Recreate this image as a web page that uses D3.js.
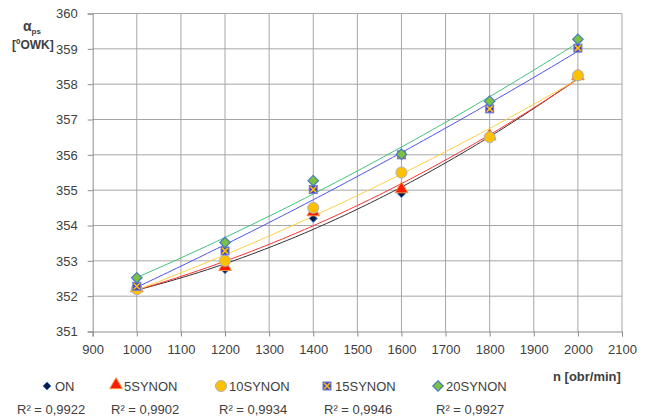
<!DOCTYPE html>
<html>
<head>
<meta charset="utf-8">
<script src="https://cdn.jsdelivr.net/npm/d3@7"></script>
<style>
  body { margin: 0; background: #fff; }
  text { font-family: "Liberation Sans", Arial, sans-serif; fill: #404040; }
</style>
</head>
<body>
<div id="chart"></div>
<script>
// chart data
var speeds = [1000, 1200, 1400, 1600, 1800, 2000];
var seriesNames = ["ON", "5SYNON", "10SYNON", "15SYNON", "20SYNON"];
var valuesON = [352.2, 352.75, 354.2, 354.9, 356.5, 358.2];
var values5 = [352.2, 352.8, 354.35, 355.0, 356.5, 358.2];
var values10 = [352.2, 353.0, 354.5, 355.5, 356.5, 358.25];
var values15 = [352.28, 353.28, 355.02, 356.0, 357.3, 359.02];
var values20 = [352.52, 353.52, 355.27, 356.02, 357.52, 359.27];
var r2Labels = ["R² = 0,9922", "R² = 0,9902", "R² = 0,9934", "R² = 0,9946", "R² = 0,9927"];
var xTicks = [900, 1000, 1100, 1200, 1300, 1400, 1500, 1600, 1700, 1800, 1900, 2000, 2100];
var yTicks = [351, 352, 353, 354, 355, 356, 357, 358, 359, 360];

var allValues = [valuesON, values5, values10, values15, values20];
var lineColors = ["#303030", "#ff3030", "#ffd040", "#5050f0", "#40c080"];

var width = 649, height = 419;
var margin = {top: 13.5, right: 27, bottom: 87.5, left: 92.7};

var svg = d3.select("#chart").append("svg")
  .attr("width", width)
  .attr("height", height);

var x = d3.scaleLinear().domain([900, 2100]).range([margin.left, width - margin.right]);
var y = d3.scaleLinear().domain([351, 360]).range([height - margin.bottom, margin.top]);

// grid
svg.append("g")
  .selectAll("line.v")
  .data(xTicks.slice(1))
  .enter().append("line")
    .attr("x1", function(d) { return x(d); })
    .attr("x2", function(d) { return x(d); })
    .attr("y1", y(351))
    .attr("y2", y(360))
    .attr("stroke", "#a6a6a6")
    .attr("stroke-width", 1);

svg.append("g")
  .selectAll("line.h")
  .data(yTicks.slice(1))
  .enter().append("line")
    .attr("x1", x(900))
    .attr("x2", x(2100))
    .attr("y1", function(d) { return y(d); })
    .attr("y2", function(d) { return y(d); })
    .attr("stroke", "#a6a6a6")
    .attr("stroke-width", 1);

// axes
var xAxis = svg.append("g")
  .attr("transform", "translate(0," + y(351) + ")")
  .call(d3.axisBottom(x).tickValues(xTicks).tickSize(5).tickPadding(8).tickFormat(d3.format("d")));
var yAxis = svg.append("g")
  .attr("transform", "translate(" + x(900) + ",0)")
  .call(d3.axisLeft(y).tickValues(yTicks).tickSize(5).tickPadding(10).tickFormat(d3.format("d")));

[xAxis, yAxis].forEach(function(ax) {
  ax.select(".domain").attr("stroke", "#8c8c8c");
  ax.selectAll(".tick line").attr("stroke", "#8c8c8c");
  ax.selectAll(".tick text")
    .attr("font-size", 13)
    .attr("font-family", "Liberation Sans, Arial, sans-serif")
    .attr("fill", "#404040");
});

// quadratic least squares trendline
function quadFit(xs, ys) {
  var c = d3.mean(xs);
  var s = [0, 0, 0, 0, 0], t = [0, 0, 0];
  xs.forEach(function(xv, i) {
    var u = xv - c;
    for (var k = 0; k < 5; k++) s[k] += Math.pow(u, k);
    for (var k2 = 0; k2 < 3; k2++) t[k2] += ys[i] * Math.pow(u, k2);
  });
  var M = [[s[0], s[1], s[2], t[0]], [s[1], s[2], s[3], t[1]], [s[2], s[3], s[4], t[2]]];
  for (var i = 0; i < 3; i++) {
    for (var j = i + 1; j < 3; j++) {
      var f = M[j][i] / M[i][i];
      for (var k = i; k < 4; k++) M[j][k] -= f * M[i][k];
    }
  }
  var b = [0, 0, 0];
  for (var i2 = 2; i2 >= 0; i2--) {
    var sum = M[i2][3];
    for (var k3 = i2 + 1; k3 < 3; k3++) sum -= M[i2][k3] * b[k3];
    b[i2] = sum / M[i2][i2];
  }
  return function(xv) { var u = xv - c; return b[0] + b[1] * u + b[2] * u * u; };
}

var line = d3.line()
  .x(function(d) { return x(d[0]); })
  .y(function(d) { return y(d[1]); });

allValues.forEach(function(vals, si) {
  var fit = quadFit(speeds, vals);
  var pts = d3.range(1000, 2001, 10).map(function(n) { return [n, fit(n)]; });
  svg.append("path")
    .datum(pts)
    .attr("d", line)
    .attr("fill", "none")
    .attr("stroke", lineColors[si])
    .attr("stroke-width", 1);
});

// marker drawing
function drawMarker(g, si, cx, cy) {
  if (si === 0) {
    g.append("path").attr("d", d3.symbol().type(d3.symbolDiamond2).size(40)())
      .attr("transform", "translate(" + cx + "," + cy + ")")
      .attr("fill", "#0a1a40").attr("stroke", "#3a7ad8").attr("stroke-width", 1);
  } else if (si === 1) {
    g.append("path").attr("d", d3.symbol().type(d3.symbolTriangle).size(70)())
      .attr("transform", "translate(" + cx + "," + (cy - 1) + ")")
      .attr("fill", "#ff1a00").attr("stroke", "#f79646").attr("stroke-width", 1);
  } else if (si === 2) {
    g.append("circle").attr("cx", cx).attr("cy", cy).attr("r", 5.5)
      .attr("fill", "#ffc000").attr("stroke", "#b0b0b0").attr("stroke-width", 1);
  } else if (si === 3) {
    g.append("rect").attr("x", cx - 4).attr("y", cy - 4).attr("width", 8).attr("height", 8)
      .attr("fill", "#4040d8").attr("stroke", "#6f7fd0").attr("stroke-width", 1);
    g.append("path").attr("d", "M" + (cx - 3) + "," + (cy - 3) + "L" + (cx + 3) + "," + (cy + 3) +
        "M" + (cx + 3) + "," + (cy - 3) + "L" + (cx - 3) + "," + (cy + 3))
      .attr("stroke", "#ffc000").attr("stroke-width", 1.6);
  } else {
    g.append("path").attr("d", d3.symbol().type(d3.symbolDiamond2).size(70)())
      .attr("transform", "translate(" + cx + "," + cy + ")")
      .attr("fill", "#7cc142").attr("stroke", "#4a7ebb").attr("stroke-width", 1.2);
  }
}

var markers = svg.append("g");
allValues.forEach(function(vals, si) {
  vals.forEach(function(v, i) {
    drawMarker(markers, si, x(speeds[i]), y(v));
  });
});

// axis titles
var yTitle = svg.append("text")
  .attr("x", 23).attr("y", 31)
  .attr("font-weight", "bold").attr("font-size", 14).attr("fill", "#404040");
yTitle.append("tspan").text("α");
yTitle.append("tspan").attr("font-size", 8).attr("dy", 3).text("ps");
svg.append("text")
  .attr("x", 12).attr("y", 49)
  .attr("font-weight", "bold").attr("font-size", 12).attr("fill", "#404040")
  .text("[ºOWK]");

svg.append("text")
  .attr("x", 553).attr("y", 381)
  .attr("font-weight", "bold").attr("font-size", 13).attr("fill", "#404040")
  .text("n [obr/min]");

// legend
var legendX = [47, 116, 221, 327, 438];
var r2X = [17, 111, 219, 324, 436];
var legend = svg.append("g");
seriesNames.forEach(function(name, si) {
  drawMarker(legend, si, legendX[si], 386);
  legend.append("text")
    .attr("x", legendX[si] + 8).attr("y", 391)
    .attr("font-size", 13).attr("fill", "#404040")
    .text(name);
  legend.append("text")
    .attr("x", r2X[si]).attr("y", 414)
    .attr("font-size", 13).attr("fill", "#404040")
    .text(r2Labels[si]);
});
</script>
</body>
</html>
